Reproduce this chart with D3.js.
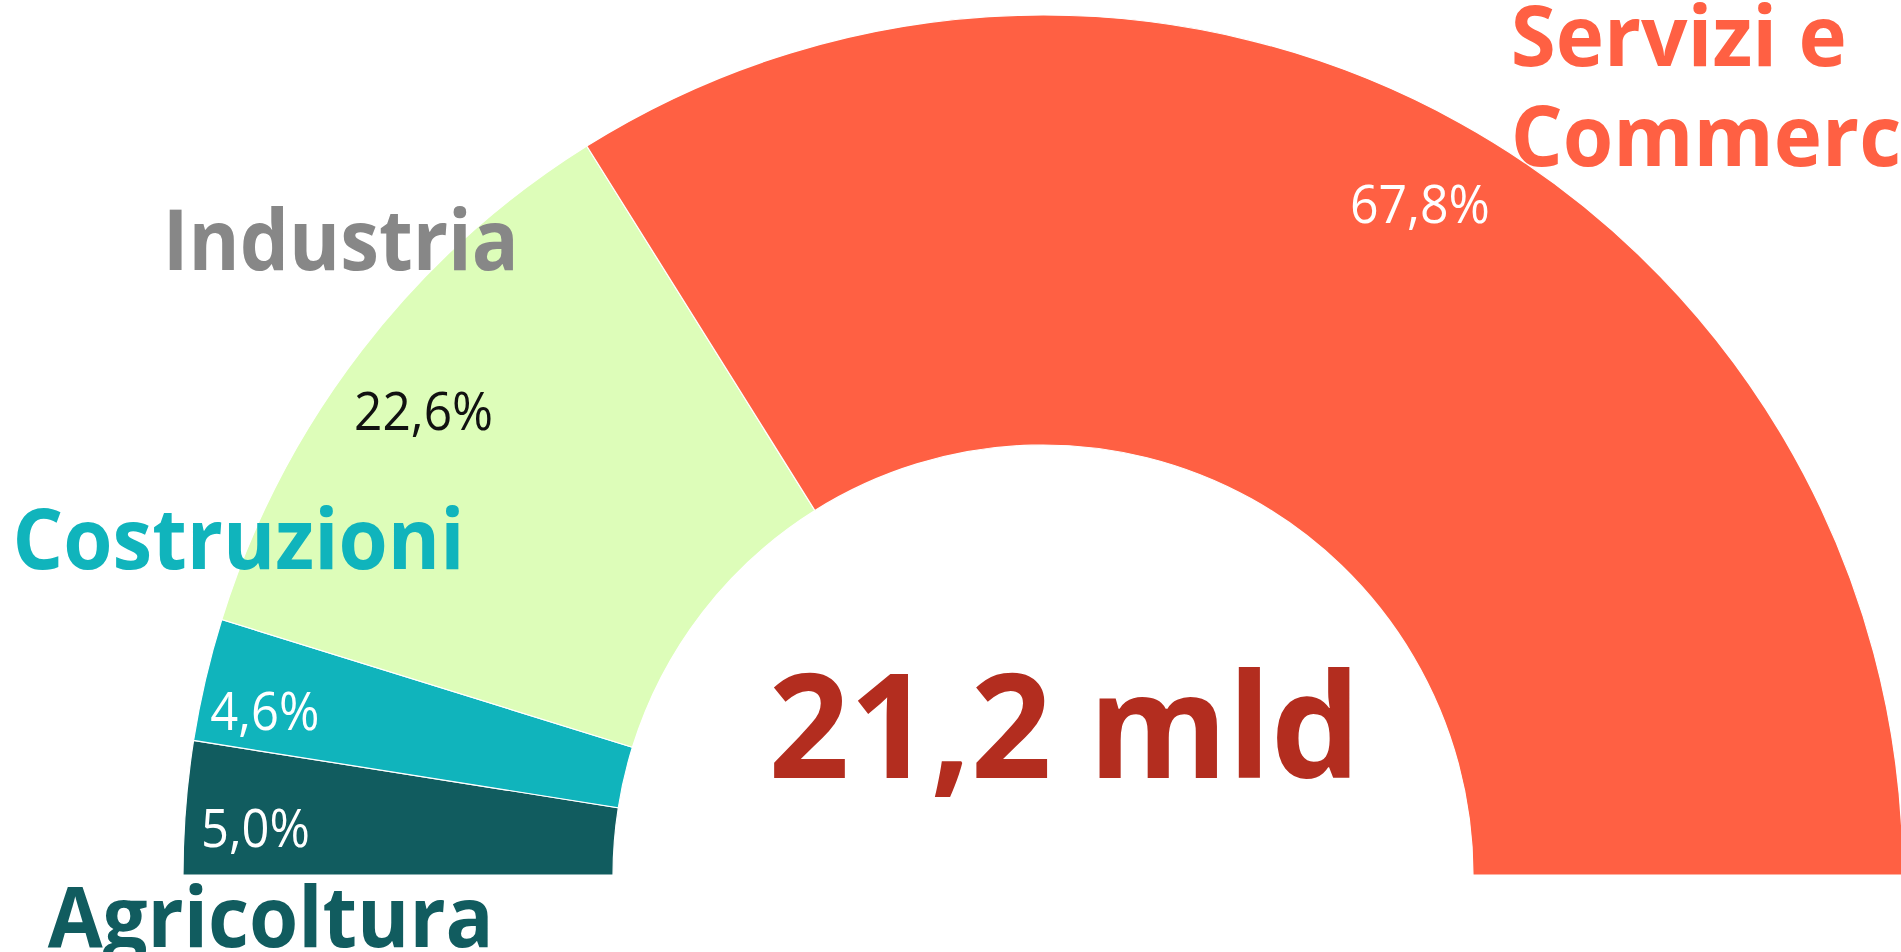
<!DOCTYPE html>
<html>
<head>
<meta charset="utf-8">
<script src="https://cdn.jsdelivr.net/npm/d3@7"></script>
<style>
  html, body { margin: 0; padding: 0; background: #fff; overflow: hidden; }
  #chart { width: 1901px; height: 952px; }
  text { font-family: "Source Sans Pro", "Open Sans", Lato, sans-serif; }
</style>
</head>
<body>
<div id="chart"></div>
<script>
'use strict';

// data
const categories = ['Agricoltura', 'Costruzioni', 'Industria', 'Servizi e Commercio'];
const shares     = [5.0, 4.6, 22.6, 67.8];
const sliceColors = ['#115c5f', '#10b4bc', '#ddfdb9', '#ff6043'];
const labelColors = ['#115c5f', '#10b4bc', '#878787', '#ff6043'];
const pctColors   = ['#ffffff', '#ffffff', '#111111', '#ffffff'];
const totalLabel  = '21,2 mld';

const W = 1901, H = 952;
const cx = 1043, cy = 875;
const R = 860, r = 430;

const fmtPct = v => d3.format('.1f')(v).replace('.', ',') + '%';

const svg = d3.select('#chart').append('svg')
  .attr('width', W).attr('height', H);

const g = svg.append('g').attr('transform', `translate(${cx},${cy})`);

const pie = d3.pie()
  .sort(null)
  .startAngle(-Math.PI / 2)
  .endAngle(Math.PI / 2)
  .value(d => d.value);

const data = categories.map((c, i) => ({ name: c, value: shares[i], i }));
const arcs = pie(data);

const arc = d3.arc().innerRadius(r).outerRadius(R);

g.selectAll('path.slice')
  .data(arcs)
  .join('path')
  .attr('class', 'slice')
  .attr('d', arc)
  .attr('fill', d => sliceColors[d.data.i])
  .attr('stroke', '#fff')
  .attr('stroke-width', 1.2);

// polar helper (d3 convention: 0 = up, clockwise)
function polar(a, rad) {
  return [Math.sin(a) * rad, -Math.cos(a) * rad];
}

// percentage labels near the outer part of each slice
const pctLayout = [
  { rad: 790, dx: 0, dy: 20, len: 109 },
  { rad: 795, dx: -4, dy: 22, len: 109 },
  { rad: 782, dx: 0, dy: 18, len: 139 },
  { rad: 778, dx: 0, dy: 14, len: 140 },
];

g.selectAll('text.pct')
  .data(arcs)
  .join('text')
  .attr('class', 'pct')
  .attr('transform', d => {
    const mid = (d.startAngle + d.endAngle) / 2;
    const L = pctLayout[d.data.i];
    const [x, y] = polar(mid, L.rad);
    return `translate(${x + L.dx},${y + L.dy})`;
  })
  .attr('text-anchor', 'middle')
  .attr('dominant-baseline', 'middle')
  .attr('font-size', 53)
  .attr('font-weight', 400)
  .attr('textLength', d => pctLayout[d.data.i].len)
  .attr('lengthAdjust', 'spacingAndGlyphs')
  .attr('fill', d => pctColors[d.data.i])
  .text(d => fmtPct(d.data.value));

// category labels around the ring
const catLayout = [
  { rad: 860, anchor: 'start', dx: -138, dy: 139, len: 446, lines: ['Agricoltura'] },
  { rad: 860, anchor: 'start', dx: -193, dy: -111, len: 452, lines: ['Costruzioni'] },
  { rad: 860, anchor: 'end', dx: 157, dy: -80, len: 356, lines: ['Industria'] },
  { rad: 920, anchor: 'start', dx: 22, dy: -4, len: 336, lines: ['Servizi e', 'Commercio'] },
];

arcs.forEach(d => {
  const L = catLayout[d.data.i];
  const mid = (d.startAngle + d.endAngle) / 2;
  const [x, y] = polar(mid, L.rad);
  const t = g.append('text')
    .attr('class', 'cat')
    .attr('x', x + L.dx)
    .attr('y', y + L.dy)
    .attr('text-anchor', L.anchor)
    .attr('font-size', 84)
    .attr('font-weight', 700)
    .attr('fill', labelColors[d.data.i]);
  let scale = 1;
  L.lines.forEach((ln, k) => {
    const ts = t.append('tspan')
      .attr('x', x + L.dx)
      .attr('dy', k === 0 ? 0 : 100)
      .text(ln);
    const natural = ts.node().getComputedTextLength();
    if (k === 0) scale = L.len / natural;
    ts.attr('textLength', natural * scale).attr('lengthAdjust', 'spacingAndGlyphs');
  });
});

// total in the middle
g.append('text')
  .attr('x', 21.5)
  .attr('y', -97)
  .attr('text-anchor', 'middle')
  .attr('font-size', 146)
  .attr('font-weight', 700)
  .attr('textLength', 592)
  .attr('lengthAdjust', 'spacingAndGlyphs')
  .attr('fill', '#b32d1f')
  .text(totalLabel);
</script>
</body>
</html>
